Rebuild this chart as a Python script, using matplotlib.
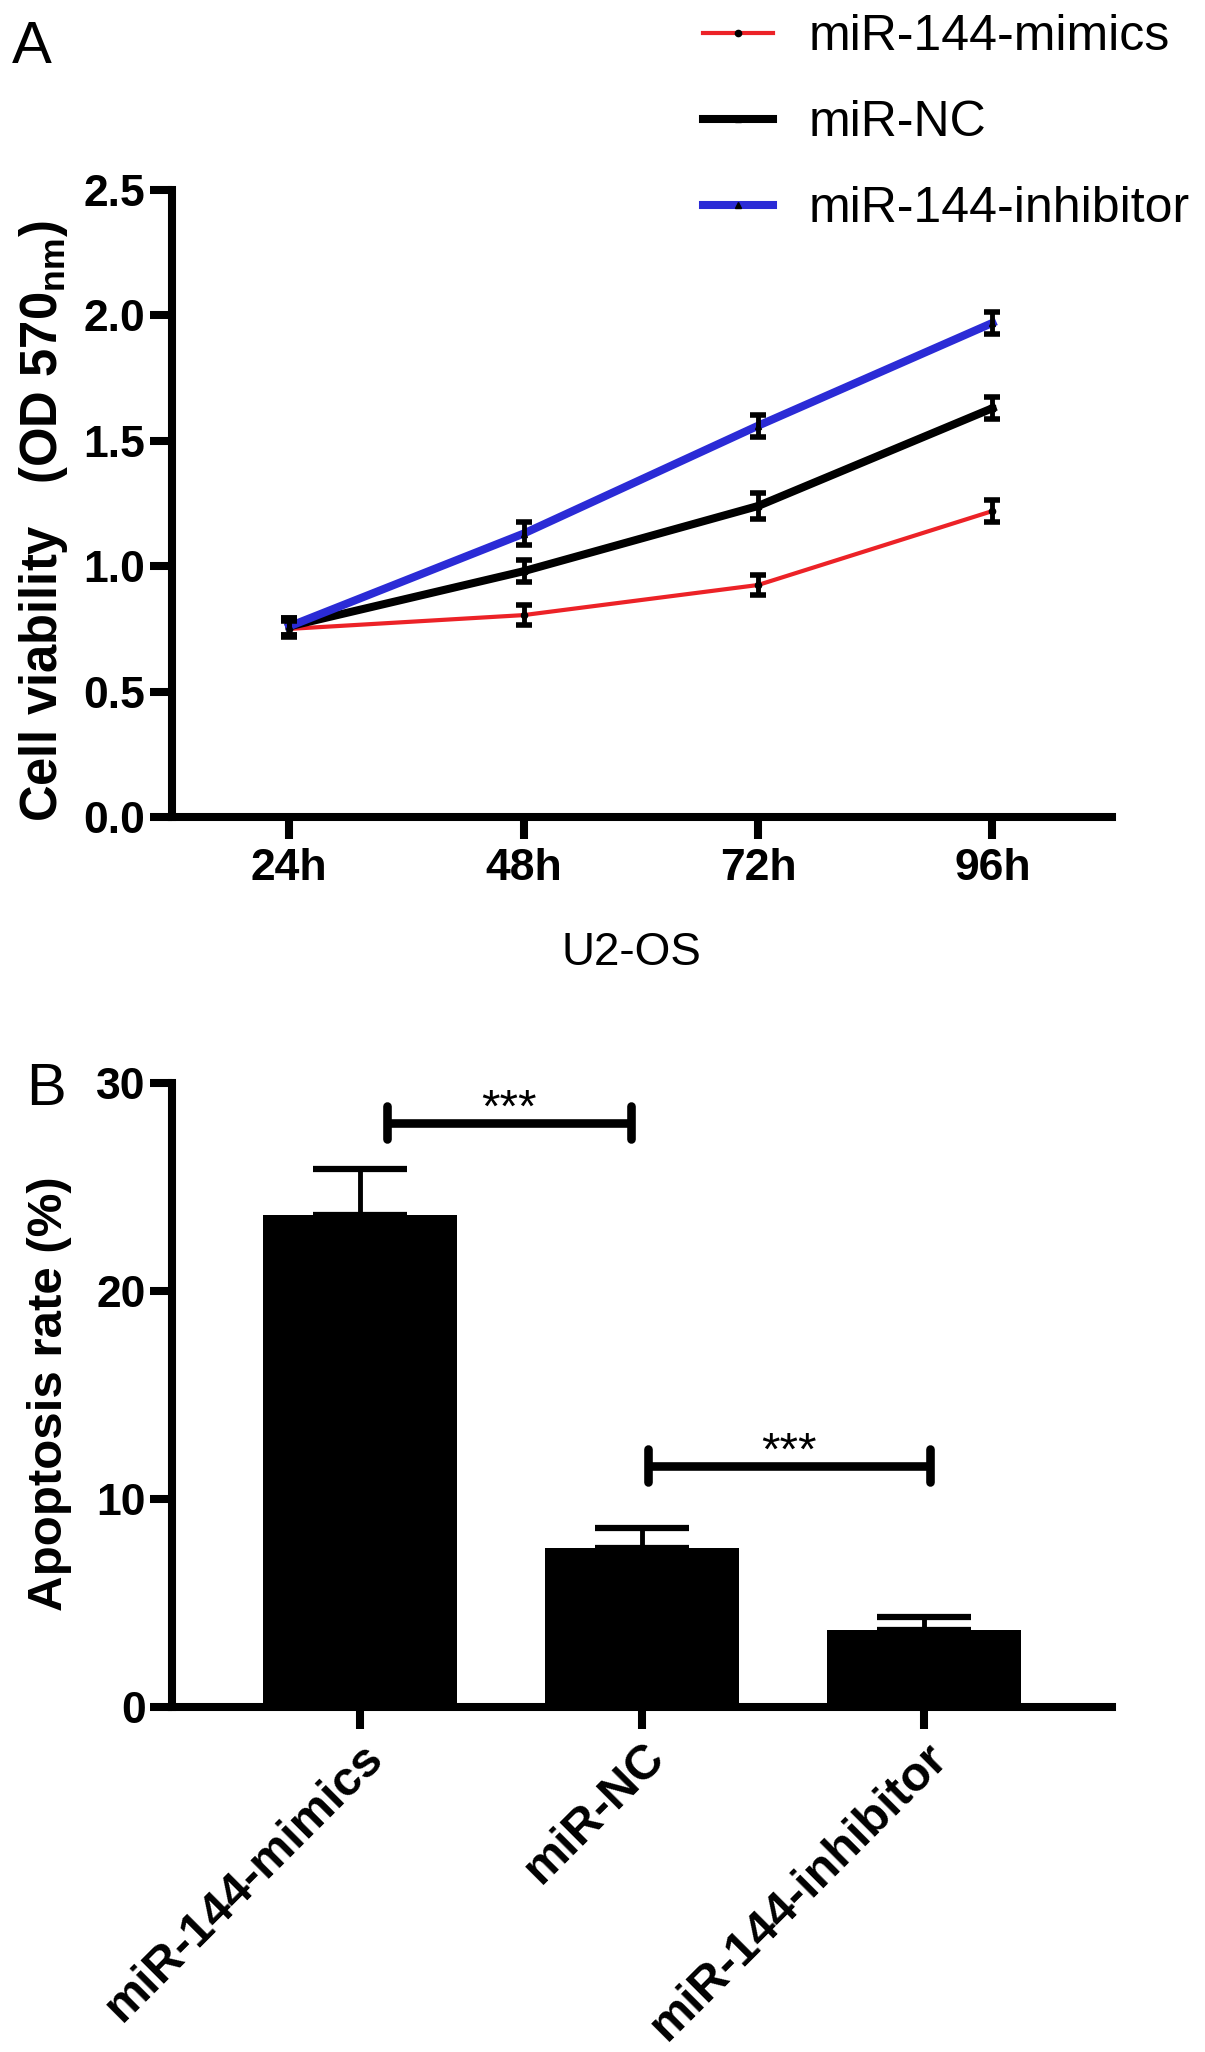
import matplotlib
matplotlib.use('Agg')
import matplotlib.pyplot as plt
import numpy as np

plt.rcParams['font.family'] = ['Liberation Sans', 'DejaVu Sans']
plt.rcParams['mathtext.fontset'] = 'custom'
plt.rcParams['mathtext.bf'] = 'Liberation Sans:bold'
plt.rcParams['mathtext.rm'] = 'Liberation Sans'

# ---------------- data ----------------
time_labels = ['24h', '48h', '72h', '96h']
series_names = ['miR-144-mimics', 'miR-NC', 'miR-144-inhibitor']
mimics_od = [0.75, 0.805, 0.925, 1.22]
nc_od = [0.76, 0.98, 1.24, 1.63]
inhibitor_od = [0.76, 1.13, 1.56, 1.97]
mimics_err = [0.033, 0.040, 0.040, 0.044]
nc_err = [0.033, 0.043, 0.050, 0.044]
inhibitor_err = [0.033, 0.047, 0.044, 0.045]
viability_ticks = [0.0, 0.5, 1.0, 1.5, 2.0, 2.5]

groups = ['miR-144-mimics', 'miR-NC', 'miR-144-inhibitor']
apoptosis = [23.65, 7.64, 3.70]
apoptosis_err = [2.2, 0.96, 0.63]
apoptosis_ticks = [0, 10, 20, 30]
sig_labels = ['***', '***']
sig_heights = [28.1, 11.6]

# ---------------- figure ----------------
W, H = 1205, 2052
fig = plt.figure(figsize=(W / 100, H / 100), dpi=100)

SPINE_LW = 5.8
TICK_LEN = 16


def style_axes(ax):
    for s in ['top', 'right']:
        ax.spines[s].set_visible(False)
    for s in ['left', 'bottom']:
        ax.spines[s].set_linewidth(SPINE_LW)
    ax.tick_params(axis='both', which='major', width=SPINE_LW, length=TICK_LEN,
                   direction='out', labelsize=32)
    for lab in ax.get_xticklabels() + ax.get_yticklabels():
        lab.set_fontweight('bold')


# ---------- panel A ----------
ax1 = fig.add_axes([172 / W, 1 - 817 / H, 940 / W, 627 / H])
x = np.arange(len(time_labels))
series = [
    (series_names[0], mimics_od, mimics_err, '#EC2227', 3.0, 'o'),
    (series_names[1], nc_od, nc_err, '#000000', 5.8, 's'),
    (series_names[2], inhibitor_od, inhibitor_err, '#2B2BD6', 5.8, '^'),
]
handles = []
for name, vals, errs, col, lw, mk in series:
    h, = ax1.plot(x, vals, color=col, lw=lw, marker=mk, ms=4.5, mfc='k', mec='k',
                  label=name, zorder=2, clip_on=False)
    handles.append(h)
    ax1.errorbar(x, vals, yerr=errs, fmt='none', ecolor='k', elinewidth=3.5,
                 capsize=5.5, capthick=4, zorder=3, clip_on=False)

ax1.set_xlim(-0.5, 3.51)
ax1.set_ylim(0, 2.5)
ax1.set_xticks(x)
ax1.set_xticklabels(time_labels)
ax1.set_yticks(viability_ticks)
ax1.set_yticklabels([f'{v:.1f}' for v in viability_ticks])
style_axes(ax1)
ax1.tick_params(axis='x', pad=6)
ax1.tick_params(axis='y', pad=3)
ax1.set_ylabel('Cell viability   (OD 570$_{\\mathbf{nm}}$)', fontsize=36.5,
               fontweight='bold', va='center')
ax1.yaxis.set_label_coords(-0.137, 0.472)
ax1.set_xlabel('U2-OS', fontsize=33, va='center')
ax1.xaxis.set_label_coords(0.489, -0.217)

fig.legend(handles, series_names, loc='upper left',
           bbox_to_anchor=(703 / W, 1 - 14 / H), frameon=False, fontsize=36,
           handlelength=1.4, handletextpad=0.72, labelspacing=0.8,
           borderpad=0, borderaxespad=0)

fig.text(12 / W, 1 - 63 / H, 'A', fontsize=43, ha='left', va='baseline')

# ---------- panel B ----------
ax2 = fig.add_axes([172 / W, 1 - 1707 / H, 940 / W, 624 / H])
xb = np.arange(len(groups))
ax2.bar(xb, apoptosis, width=0.69, color='k', zorder=2)
ax2.errorbar(xb, apoptosis, yerr=[np.zeros(len(groups)), apoptosis_err], fmt='none',
             ecolor='k', elinewidth=3.5, capsize=34, capthick=4.5, zorder=3)
ax2.set_xlim(-0.667, 2.667)
ax2.set_ylim(0, 30)
ax2.set_xticks(xb)
ax2.set_xticklabels(groups, rotation=45, ha='right', rotation_mode='anchor',
                    fontsize=35)
ax2.set_yticks(apoptosis_ticks)
style_axes(ax2)
for lab in ax2.get_xticklabels():
    lab.set_fontsize(35)
ax2.tick_params(axis='y', pad=3)
ax2.tick_params(axis='x', pad=4)
ax2.set_ylabel('Apoptosis rate (%)', fontsize=35.5, fontweight='bold', va='center')
ax2.yaxis.set_label_coords(-0.130, 0.503)

# significance brackets
bracket_spans = [(0 + 0.096, 1 - 0.04), (1 + 0.02, 2 + 0.02)]
for (x0, x1), yv, lab in zip(bracket_spans, sig_heights, sig_labels):
    ax2.plot([x0, x1], [yv, yv], color='k', lw=6.2, solid_capstyle='butt',
             zorder=4, clip_on=False)
    for xe in (x0, x1):
        ax2.plot([xe, xe], [yv - 0.78, yv + 0.78], color='k', lw=6.2,
                 solid_capstyle='round', zorder=4, clip_on=False)
    ax2.text((x0 + x1) / 2, yv + 0.05, lab, fontsize=34, ha='center', va='baseline')

fig.text(26 / W, 1 - 1105 / H, 'B', fontsize=43, ha='left', va='baseline')

fig.savefig('out.png', dpi=100, facecolor='white')
